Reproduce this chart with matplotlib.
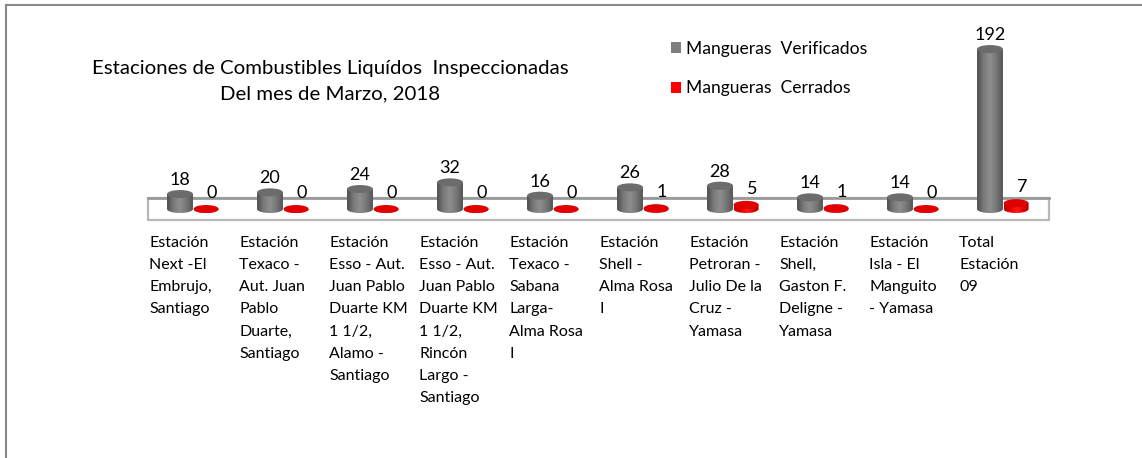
import numpy as np
import matplotlib
matplotlib.use("Agg")
import matplotlib.pyplot as plt
from matplotlib.patches import Ellipse, Polygon, Rectangle, Patch
from matplotlib.colors import LinearSegmentedColormap
from matplotlib.lines import Line2D
from matplotlib.transforms import blended_transform_factory

# --- datos ---
estaciones = [
    "Estación\nNext -El\nEmbrujo,\nSantiago",
    "Estación\nTexaco -\nAut. Juan\nPablo\nDuarte,\nSantiago",
    "Estación\nEsso - Aut.\nJuan Pablo\nDuarte KM\n1 1/2,\nAlamo -\nSantiago",
    "Estación\nEsso - Aut.\nJuan Pablo\nDuarte KM\n1 1/2,\nRincón\nLargo -\nSantiago",
    "Estación\nTexaco -\nSabana\nLarga-\nAlma Rosa\nI",
    "Estación\nShell -\nAlma Rosa\nI",
    "Estación\nPetroran -\nJulio De la\nCruz -\nYamasa",
    "Estación\nShell,\nGaston F.\nDeligne -\nYamasa",
    "Estación\nIsla - El\nManguito\n- Yamasa",
    "Total\nEstación\n09",
]
verificados = [18, 20, 24, 32, 16, 26, 28, 14, 14, 192]
cerrados = [0, 0, 0, 0, 0, 1, 5, 1, 0, 7]

titulo = "Estaciones de Combustibles Liquídos  Inspeccionadas\nDel mes de Marzo, 2018"
serie_1 = "Mangueras  Verificados"
serie_2 = "Mangueras  Cerrados"

plt.rcParams['font.family'] = ['Lato', 'DejaVu Sans']

W, H = 1142, 458
fig = plt.figure(figsize=(W / 100, H / 100), dpi=100)

# eje de barras: x en categorías, y en valores
ax = fig.add_axes([135 / W, (H - 221.5) / H, 936 / W, 179.1 / H])
ax.set_xlim(-0.5, 9.9)
ax.set_ylim(-15, 200)
ax.axis('off')

px_y = 179.1 / 215.0  # pixeles por unidad en y
b_elip = 4.0 / px_y    # semi-altura de la elipse en unidades

gris = LinearSegmentedColormap.from_list("gris", ["#4e4e4e", "#7a7a7a", "#8e8e8e", "#777777", "#555555"])
rojo = LinearSegmentedColormap.from_list("rojo", ["#b80000", "#e80000", "#ff1a1a", "#e00000", "#b00000"])


def cilindro(cx, valor, a, cmap, color_tapa, z=3):
    t = np.linspace(np.pi, 2 * np.pi, 40)
    pts = np.column_stack([cx + a * np.cos(t), 0 + b_elip * np.sin(t)])
    pts = np.vstack([pts, [[cx + a, valor], [cx - a, valor]]])
    cuerpo = Polygon(pts, closed=True, facecolor='none', edgecolor='none')
    ax.add_patch(cuerpo)
    grad = np.linspace(0, 1, 64).reshape(1, -1)
    im = ax.imshow(grad, cmap=cmap, aspect='auto', zorder=z,
                   extent=[cx - a, cx + a, -b_elip, valor], interpolation='bilinear')
    im.set_clip_path(cuerpo)
    ax.add_patch(Ellipse((cx, valor), 2 * a, 2 * b_elip, facecolor=color_tapa,
                         edgecolor='none', zorder=z + 0.1))


# piso
ax.add_patch(Rectangle((-0.356, -13.2), 10.012, 26.4, facecolor='white',
                       edgecolor='#b8b8b8', linewidth=1.6, zorder=1))
ax.plot([-0.356, 9.656], [13.2, 13.2], color='#9a9a9a', linewidth=2, zorder=1.5)

trans_cat = blended_transform_factory(ax.transData, fig.transFigure)
x = np.arange(len(verificados))
for i in x:
    cilindro(i, verificados[i], 0.144, gris, "#6c6c6c", z=3)
    cilindro(i + 0.29, cerrados[i], 0.139, rojo, "#e00000", z=4)
    ax.annotate(str(verificados[i]), (i, verificados[i]), xytext=(0, 14),
                textcoords='offset pixels', ha='center', va='center', fontsize=13)
    ax.annotate(str(cerrados[i]), (i + 0.29, cerrados[i]), xytext=(6, 16),
                textcoords='offset pixels', ha='center', va='center', fontsize=13)
    ax.text(i - 0.344, (H - 236) / H, estaciones[i], transform=trans_cat,
            ha='left', va='top', fontsize=11.5, linespacing=1.74)

# titulo
fig.text(330 / W, (H - 81.5) / H, titulo, ha='center', va='center', fontsize=14.7,
         linespacing=1.62)

# leyenda
handles = [Patch(facecolor='#7f7f7f'), Patch(facecolor='#ff0000')]
fig.legend(handles, [serie_1, serie_2], loc='upper left',
           bbox_to_anchor=(662 / W, (H - 32) / H), frameon=False, fontsize=12.6,
           handlelength=0.6, handleheight=0.6, handletextpad=0.3, labelspacing=1.35,
           borderpad=0)

# marco
fig.add_artist(Line2D([6 / W, 6 / W], [0, (H - 5) / H], color='#888888', linewidth=1.5))
fig.add_artist(Line2D([6 / W, 1], [(H - 5) / H, (H - 5) / H], color='#888888', linewidth=1.5))

fig.savefig("out.png", dpi=100)
